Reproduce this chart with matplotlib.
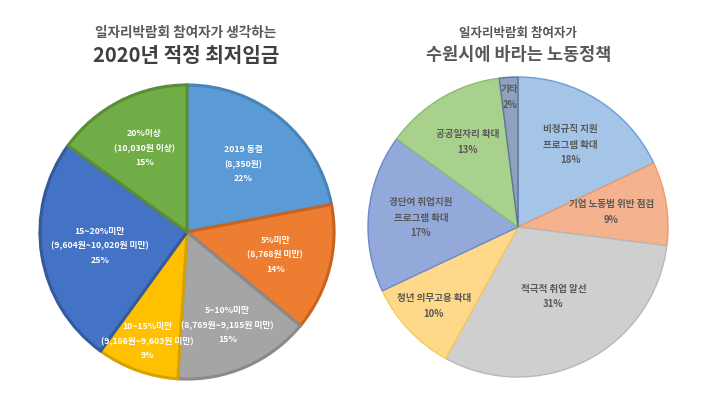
import numpy as np
import matplotlib.pyplot as plt

plt.rcParams['font.family'] = ['Noto Sans CJK KR', 'DejaVu Sans']

# left chart: 2020 minimum wage
wage_labels = ['2019 동결\n(8,350원)', '5%미만\n(8,768원 미만)', '5~10%미만\n(8,769원~9,185원 미만)',
               '10~15%미만\n(9,186원~9,603원 미만)', '15~20%미만\n(9,604원~10,020원 미만)',
               '20%이상\n(10,030원 이상)']
wage_values = [22, 14, 15, 9, 25, 15]
wage_colors = ['#5B9BD5', '#ED7D31', '#A5A5A5', '#FFC000', '#4472C4', '#70AD47']
wage_edges = ['#4A83B8', '#C8641F', '#8A8A8A', '#D6A200', '#35599C', '#5A8D37']

# right chart: labour policy wishes
policy_labels = ['비정규직 지원\n프로그램 확대', '기업 노동법 위반 점검', '적극적 취업 알선',
                 '청년 의무고용 확대', '경단여 취업지원\n프로그램 확대', '공공일자리 확대', '기타']
policy_values = [18, 9, 31, 10, 17, 13, 2]
policy_colors = ['#A4C4E8', '#F5B28E', '#CFCFCF', '#FED98A', '#93A9DA', '#A9D18E', '#8EA2C0']
policy_edges = ['#6A9FD8', '#F09A68', '#B8B8B8', '#FBC850', '#6A88CC', '#8BBF6C', '#5F7594']

fig = plt.figure(figsize=(7.10, 3.99), dpi=100)


def draw_pie(ax, values, colors, edges, lw):
    wedges, _ = ax.pie(values, colors=colors, startangle=90, counterclock=False,
                       radius=1.0, wedgeprops=dict(linewidth=lw))
    for w, e in zip(wedges, edges):
        w.set_edgecolor(e)
    ax.set_xlim(-1.02, 1.02)
    ax.set_ylim(-1.02, 1.02)
    ax.set_aspect('equal')
    return wedges


def put_labels(ax, wedges, labels, values, radii, color, fs, ls):
    for w, lab, v, r in zip(wedges, labels, values, radii):
        ang = np.deg2rad((w.theta1 + w.theta2) / 2)
        ax.text(r * np.cos(ang), r * np.sin(ang), f'{lab}\n{v}%', ha='center', va='center',
                fontsize=fs, color=color, fontweight='bold', linespacing=ls)


# left pie: center (187, 232), radius 147 px
ax1 = fig.add_axes([(187 - 150) / 710, (399 - 232 - 150) / 399, 300 / 710, 300 / 399])
w1 = draw_pie(ax1, wage_values, wage_colors, wage_edges, 2.2)
put_labels(ax1, w1, wage_labels, wage_values, [0.60, 0.62, 0.69, 0.79, 0.60, 0.64],
           'white', 6.3, 1.75)

# right pie: center (518, 227), radius 150 px
ax2 = fig.add_axes([(518 - 153) / 710, (399 - 227 - 153) / 399, 306 / 710, 306 / 399])
w2 = draw_pie(ax2, policy_values, policy_colors, policy_edges, 1.0)
put_labels(ax2, w2, policy_labels, policy_values, [0.65, 0.63, 0.52, 0.77, 0.65, 0.66, 0.87],
           '#595959', 6.9, 1.7)

fig.text(186 / 710, 1 - 33 / 399, '일자리박람회 참여자가 생각하는', ha='center', va='center',
         fontsize=9.8, color='#595959', fontweight='bold')
fig.text(186 / 710, 1 - 55 / 399, '2020년 적정 최저임금', ha='center', va='center',
         fontsize=14.5, color='#404040', fontweight='bold')
fig.text(518 / 710, 1 - 33 / 399, '일자리박람회 참여자가', ha='center', va='center',
         fontsize=9, color='#595959', fontweight='bold')
fig.text(519 / 710, 1 - 55 / 399, '수원시에 바라는 노동정책', ha='center', va='center',
         fontsize=12.6, color='#595959', fontweight='bold')

fig.savefig('out.png', dpi=100)
